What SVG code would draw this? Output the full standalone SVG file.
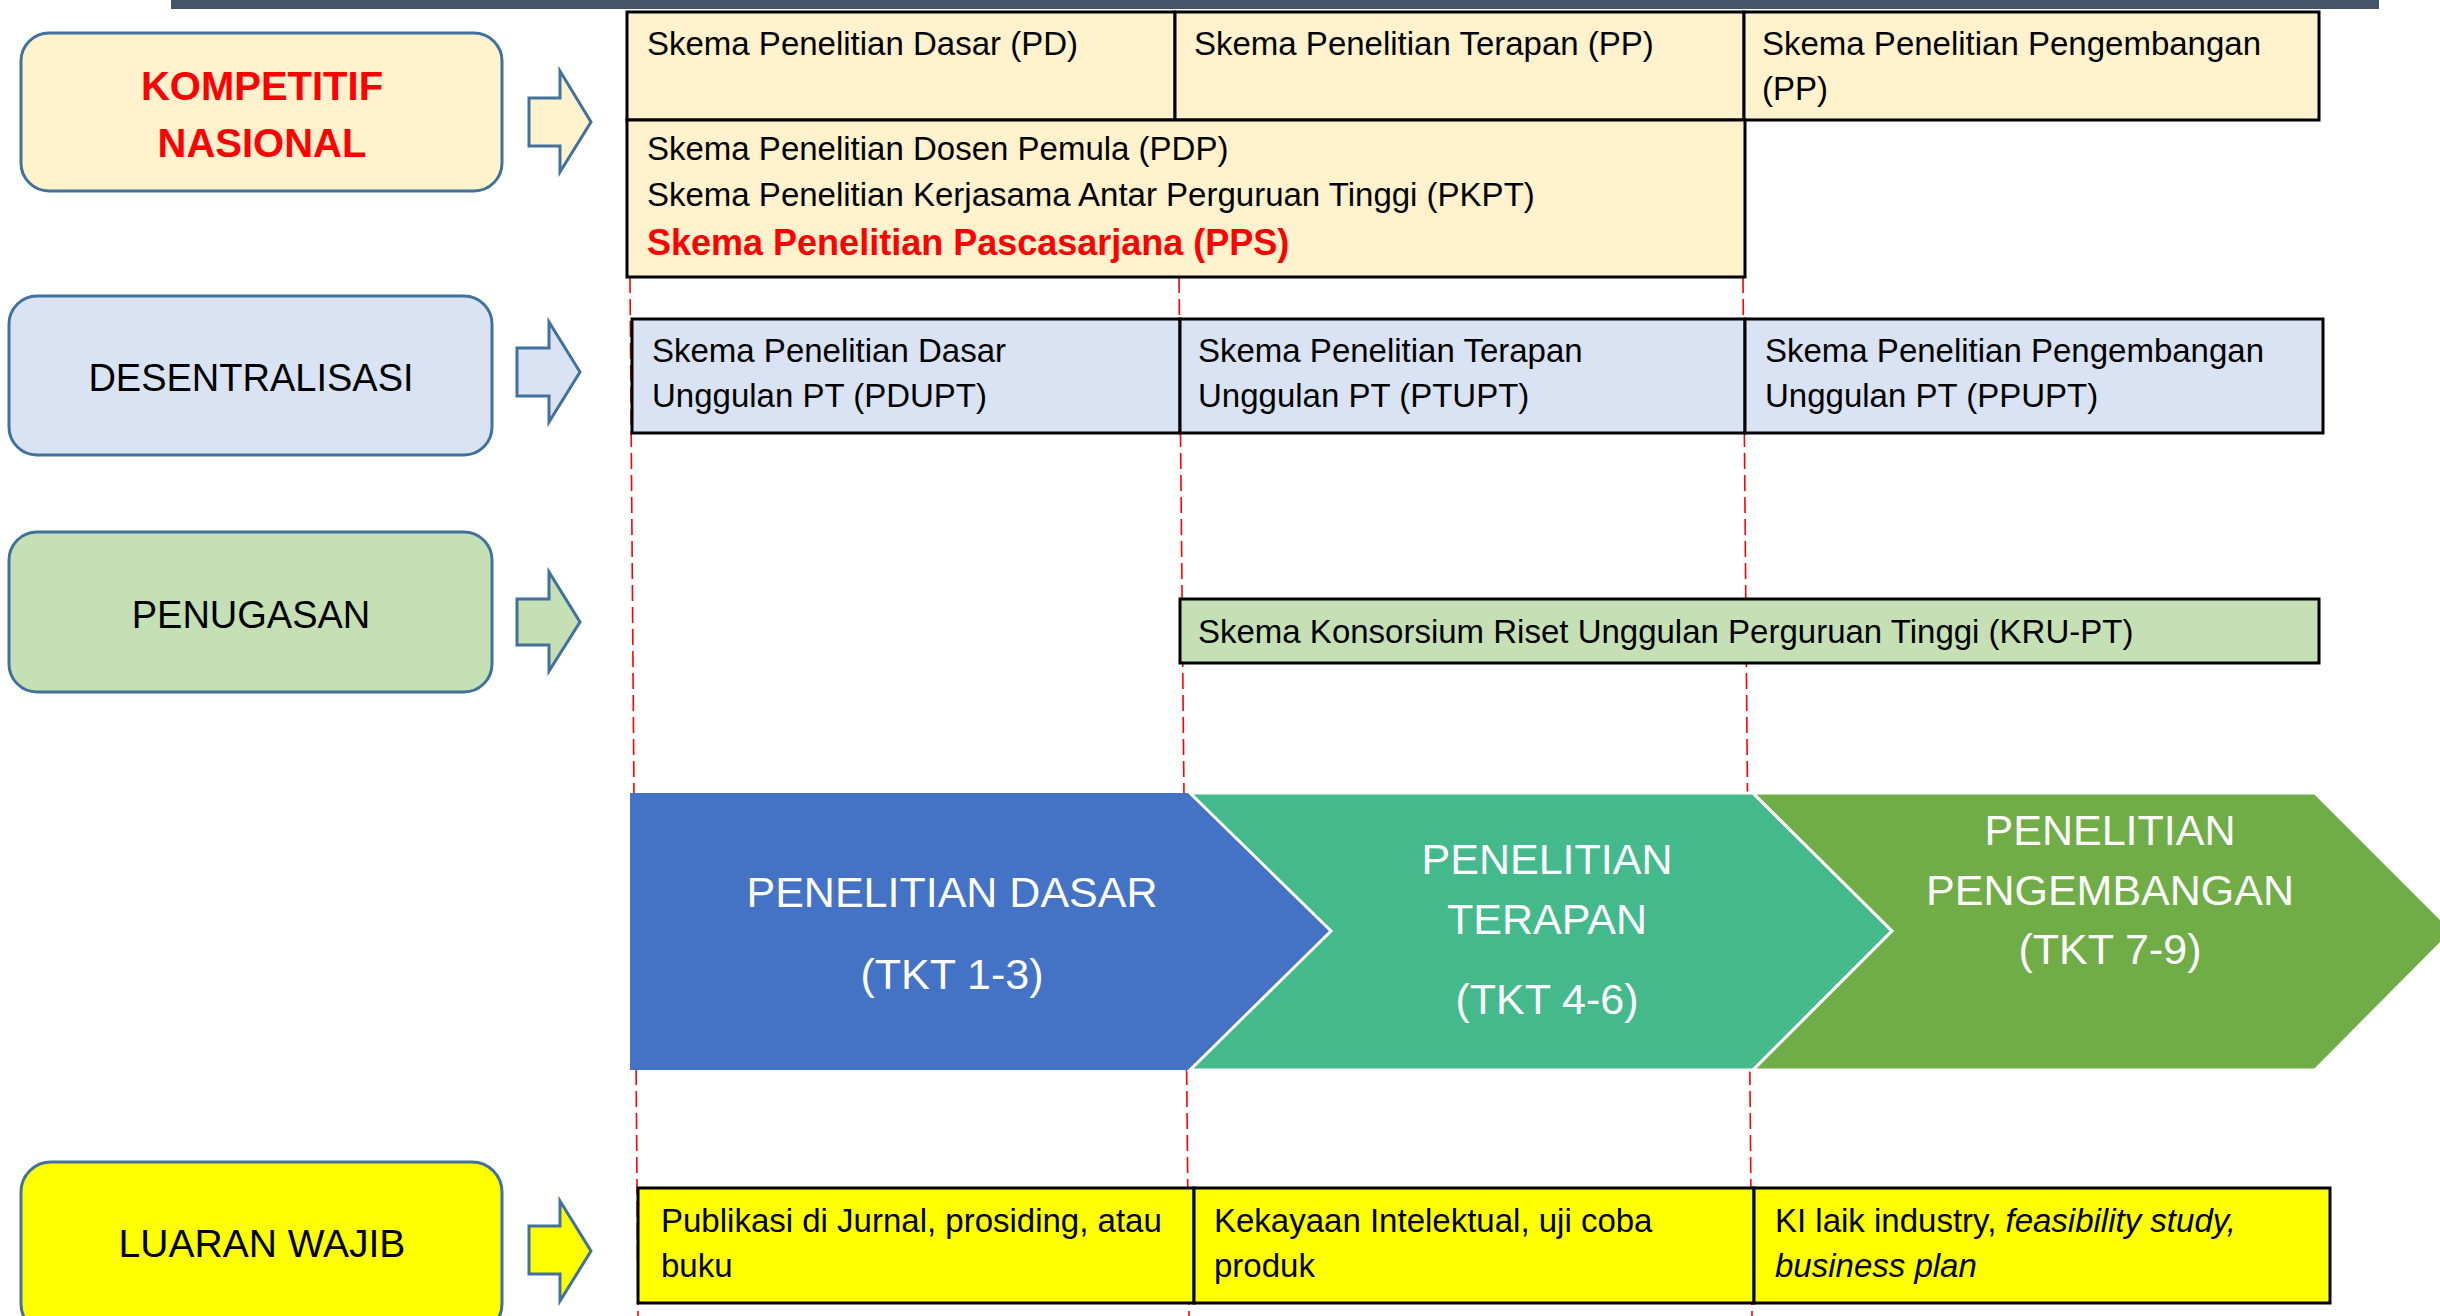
<svg xmlns="http://www.w3.org/2000/svg" width="2440" height="1316" viewBox="0 0 2440 1316">
<style>
text{font-family:"Liberation Sans",Arial,sans-serif;}
.lbl{font-size:38px;fill:#000;text-anchor:middle;}
.lblr{font-size:40px;font-weight:bold;fill:#FF0000;text-anchor:middle;}
.cat{stroke:#41719C;stroke-width:3;}
.arr{stroke:#41719C;stroke-width:3;stroke-linejoin:miter;}
.cell{stroke:#000;stroke-width:3;}
.t{font-size:33px;fill:#000;}
.tr{font-size:36px;font-weight:bold;fill:#FF0000;}
.ch{font-size:43px;fill:#FFFFFF;text-anchor:middle;}
.chev{stroke:#FFFFFF;stroke-width:3;stroke-linejoin:miter;}
.dash{stroke:#FF0000;stroke-width:1.6;stroke-dasharray:16 6;fill:none;}
.y1{fill:#FFF2CC;}
.b1{fill:#DAE3F3;}
.g1{fill:#C5E0B4;}
.yy{fill:#FFFF00;}
</style>
<rect x="171" y="0" width="2208" height="9" fill="#44546A"/>
<g id="connectors">
<line class="dash" x1="630" y1="277" x2="638" y2="1316"/>
<line class="dash" x1="1179" y1="277" x2="1189" y2="1316"/>
<line class="dash" x1="1743" y1="277" x2="1752" y2="1316"/>
</g>
<g id="kompetitif">
<rect class="cat y1" x="21" y="33" width="481" height="158" rx="28"/>
<text class="lblr" x="262" y="100">KOMPETITIF</text>
<text class="lblr" x="262" y="157">NASIONAL</text>
<polygon class="arr y1" points="529,98 560,98 560,71 591,122 560,172 560,146 529,146"/>
</g>
<g id="kompetitif-table">
<rect class="cell y1" x="627" y="12" width="548" height="108"/>
<rect class="cell y1" x="1175" y="12" width="569" height="108"/>
<rect class="cell y1" x="1744" y="12" width="575" height="108"/>
<rect class="cell y1" x="627" y="120" width="1118" height="157"/>
<text class="t" x="647" y="55">Skema Penelitian Dasar (PD)</text>
<text class="t" x="1194" y="55">Skema Penelitian Terapan (PP)</text>
<text class="t" x="1762" y="55">Skema Penelitian Pengembangan</text>
<text class="t" x="1762" y="100">(PP)</text>
<text class="t" x="647" y="160">Skema Penelitian Dosen Pemula (PDP)</text>
<text class="t" x="647" y="206">Skema Penelitian Kerjasama Antar Perguruan Tinggi (PKPT)</text>
<text class="tr" x="647" y="255">Skema Penelitian Pascasarjana (PPS)</text>
</g>
<g id="desentralisasi">
<rect class="cat b1" x="9" y="296" width="483" height="159" rx="28"/>
<text class="lbl" x="251" y="391">DESENTRALISASI</text>
<polygon class="arr b1" points="517,348 549,348 549,322 580,372 549,422 549,396 517,396"/>
</g>
<g id="desentralisasi-table">
<rect class="cell b1" x="632" y="319" width="548" height="114"/>
<rect class="cell b1" x="1180" y="319" width="565" height="114"/>
<rect class="cell b1" x="1745" y="319" width="578" height="114"/>
<text class="t" x="652" y="362">Skema Penelitian Dasar</text>
<text class="t" x="652" y="407">Unggulan PT (PDUPT)</text>
<text class="t" x="1198" y="362">Skema Penelitian Terapan</text>
<text class="t" x="1198" y="407">Unggulan PT (PTUPT)</text>
<text class="t" x="1765" y="362">Skema Penelitian Pengembangan</text>
<text class="t" x="1765" y="407">Unggulan PT (PPUPT)</text>
</g>
<g id="penugasan">
<rect class="cat g1" x="9" y="532" width="483" height="160" rx="28"/>
<text class="lbl" x="251" y="628">PENUGASAN</text>
<polygon class="arr g1" points="517,599 549,599 549,572 580,622 549,671 549,645 517,645"/>
</g>
<g id="kru-pt">
<rect class="cell g1" x="1180" y="599" width="1139" height="64"/>
<text class="t" x="1198" y="643">Skema Konsorsium Riset Unggulan Perguruan Tinggi (KRU-PT)</text>
</g>
<g id="penelitian-dasar">
<polygon points="630,793 1190,793 1331,931 1190,1070 630,1070" fill="#4472C4"/>
<text class="ch" x="952" y="907">PENELITIAN DASAR</text>
<text class="ch" x="952" y="989">(TKT 1-3)</text>
</g>
<g id="penelitian-terapan">
<polygon class="chev" points="1190,793 1753,793 1892,931 1753,1070 1190,1070 1331,931" fill="#44BA8C"/>
<text class="ch" x="1547" y="874">PENELITIAN</text>
<text class="ch" x="1547" y="934">TERAPAN</text>
<text class="ch" x="1547" y="1014">(TKT 4-6)</text>
</g>
<g id="penelitian-pengembangan">
<polygon class="chev" points="1753,793 2315,793 2453,931 2315,1070 1753,1070 1892,931" fill="#70AD47"/>
<text class="ch" x="2110" y="845">PENELITIAN</text>
<text class="ch" x="2110" y="905">PENGEMBANGAN</text>
<text class="ch" x="2110" y="964">(TKT 7-9)</text>
</g>
<g id="luaran-wajib">
<rect class="cat yy" x="21" y="1162" width="481" height="172" rx="30"/>
<text class="lbl" x="262" y="1257" style="font-size:39px">LUARAN WAJIB</text>
<polygon class="arr yy" points="529,1226 560,1226 560,1201 591,1251 560,1301 560,1274 529,1274"/>
</g>
<g id="luaran-table">
<rect class="cell yy" x="638" y="1188" width="556" height="115"/>
<rect class="cell yy" x="1194" y="1188" width="560" height="115"/>
<rect class="cell yy" x="1754" y="1188" width="576" height="115"/>
<text class="t" x="661" y="1232">Publikasi di Jurnal, prosiding, atau</text>
<text class="t" x="661" y="1277">buku</text>
<text class="t" x="1214" y="1232">Kekayaan Intelektual, uji coba</text>
<text class="t" x="1214" y="1277">produk</text>
<text class="t" x="1775" y="1232">KI laik industry, <tspan font-style="italic">feasibility study,</tspan></text>
<text class="t" x="1775" y="1277" font-style="italic">business plan</text>
</g>
</svg>
